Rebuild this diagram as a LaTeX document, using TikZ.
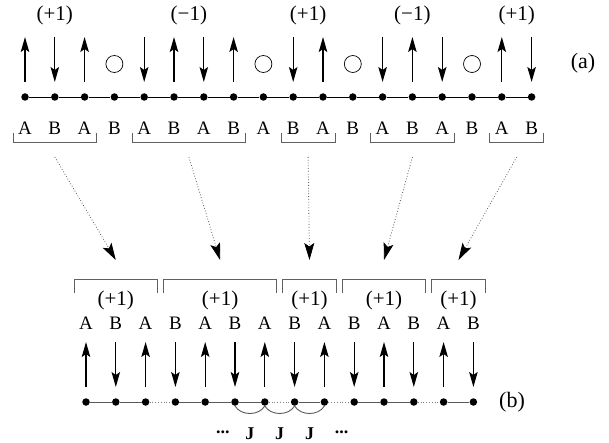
\documentclass[tikz,border=0pt]{standalone}
\usepackage{fontspec}
\setmainfont{Liberation Serif}
\usetikzlibrary{arrows.meta,calc}

\begin{document}
\begin{tikzpicture}[x=1pt, y=1pt,
  site/.style={circle, fill, inner sep=0pt, minimum size=7.5pt},
  letter/.style={font=\fontsize{19}{19}\selectfont, inner sep=0pt},
  charge/.style={font=\fontsize{21}{21}\selectfont, inner sep=0pt},
  tag/.style={font=\fontsize{22}{22}\selectfont, inner sep=0pt},
  coupling/.style={font=\fontsize{18}{18}\selectfont\bfseries, inner sep=0pt, anchor=base},
  spin/.style={-{Stealth[length=15pt, width=8.5pt, inset=3pt]}, line width=1.3pt},
  hole/.style={circle, draw, line width=0.7pt, inner sep=0pt, minimum size=17pt},
  bond/.style={line width=0.9pt},
  link/.style={line width=0.9pt, gray!70!black},
  gap/.style={line width=0.8pt, gray, dash pattern=on 0.8pt off 2pt},
  bracket/.style={line width=1pt, gray!75!black},
  map/.style={line width=0.8pt, gray!70!black, dash pattern=on 0.8pt off 2pt,
    -{Stealth[length=17pt, width=10pt, inset=3.5pt, black]}}]

  \useasboundingbox (0,0) rectangle (609,442);

  % Top chain (a)
  \foreach \i in {1,...,18}{
    \pgfmathsetmacro{\x}{25+(\i-1)*29.8}
    \node[site] (t\i) at (\x,345) {};
    \node[letter] (tl\i) at (\x,314) {\ifodd\i A\else B\fi};
    \coordinate (tlo\i) at (\x,360);
    \coordinate (thi\i) at (\x,405);
  }
  \foreach \i [evaluate=\i as \j using int(\i+1)] in {1,...,17}
    \draw[bond] (t\i) -- (t\j);

  % spins and holes
  \foreach \i in {1,3,6,8,11,14,17} \draw[spin] (tlo\i) -- (thi\i);
  \foreach \i in {2,5,7,10,13,15,18} \draw[spin] (thi\i) -- (tlo\i);
  \foreach \i in {4,9,12,16} \node[hole] (h\i) at ($(tlo\i)!.4!(thi\i)$) {};

  % Top blocks
  \foreach \a/\b/\q [count=\k] in {1/3/+1, 5/8/−1, 10/11/+1, 13/15/−1, 17/18/+1}{
    \draw[bracket] ([xshift=-12pt, yshift=-5pt]tl\a.center) -- ++(0,-10)
      -| ([xshift=12pt, yshift=-5pt]tl\b.center);
    \node[charge] (tc\k) at ($(t\a)!.5!(t\b)+(0,82)$) {(\q)};
    \coordinate (ms\k) at ($(t\a)!.5!(t\b)+(0,-60)$);
  }
  \node[tag] (la) at (583,379) {(a)};

  % Bottom chain (b)
  \foreach \i in {1,...,14}{
    \pgfmathsetmacro{\x}{86+(\i-1)*29.8}
    \node[site] (b\i) at (\x,40) {};
    \node[letter] (bl\i) at (\x,119) {\ifodd\i A\else B\fi};
    \coordinate (blo\i) at (\x,55);
    \coordinate (bhi\i) at (\x,100);
    \ifodd\i
      \draw[spin] (blo\i) -- (bhi\i);
    \else
      \draw[spin] (bhi\i) -- (blo\i);
    \fi
  }
  \foreach \i/\j in {1/2, 2/3, 4/5, 5/6, 6/7, 8/9, 10/11, 11/12, 13/14}
    \draw[link] (b\i) -- (b\j);
  \foreach \i/\j in {3/4, 7/8, 9/10, 12/13}
    \draw[gap] (b\i) -- (b\j);

  % Bottom blocks
  \foreach \a/\b [count=\k] in {1/3, 4/7, 8/9, 10/12, 13/14}{
    \draw[bracket] ([xshift=-12pt, yshift=30pt]bl\a.center) -- ++(0,14)
      -| ([xshift=12pt, yshift=30pt]bl\b.center);
    \node[charge] (bc\k) at ($(b\a)!.5!(b\b)+(0,102)$) {(+1)};
    \coordinate (me\k) at ($(b\a)!.5!(b\b)+(0,142)$);
  }
  \node[tag] (lb) at (512,40) {(b)};

  % mapping arrows
  \foreach \k in {1,...,5} \draw[map] (ms\k) -- (me\k);

  % couplings
  \foreach \i/\j [count=\k] in {6/7, 7/8, 8/9}{
    \draw[link] (b\i.south) to[out=-60, in=-120] (b\j.south);
    \node[coupling] (j\k) at ($(b\i)!.5!(b\j)+(0,-37)$) {J};
  }
  \node[coupling] (dl) at ($(j1)+(-27,0)$) {...};
  \node[coupling] (dr) at ($(j3)+(32,0)$) {...};

\end{tikzpicture}
\end{document}
